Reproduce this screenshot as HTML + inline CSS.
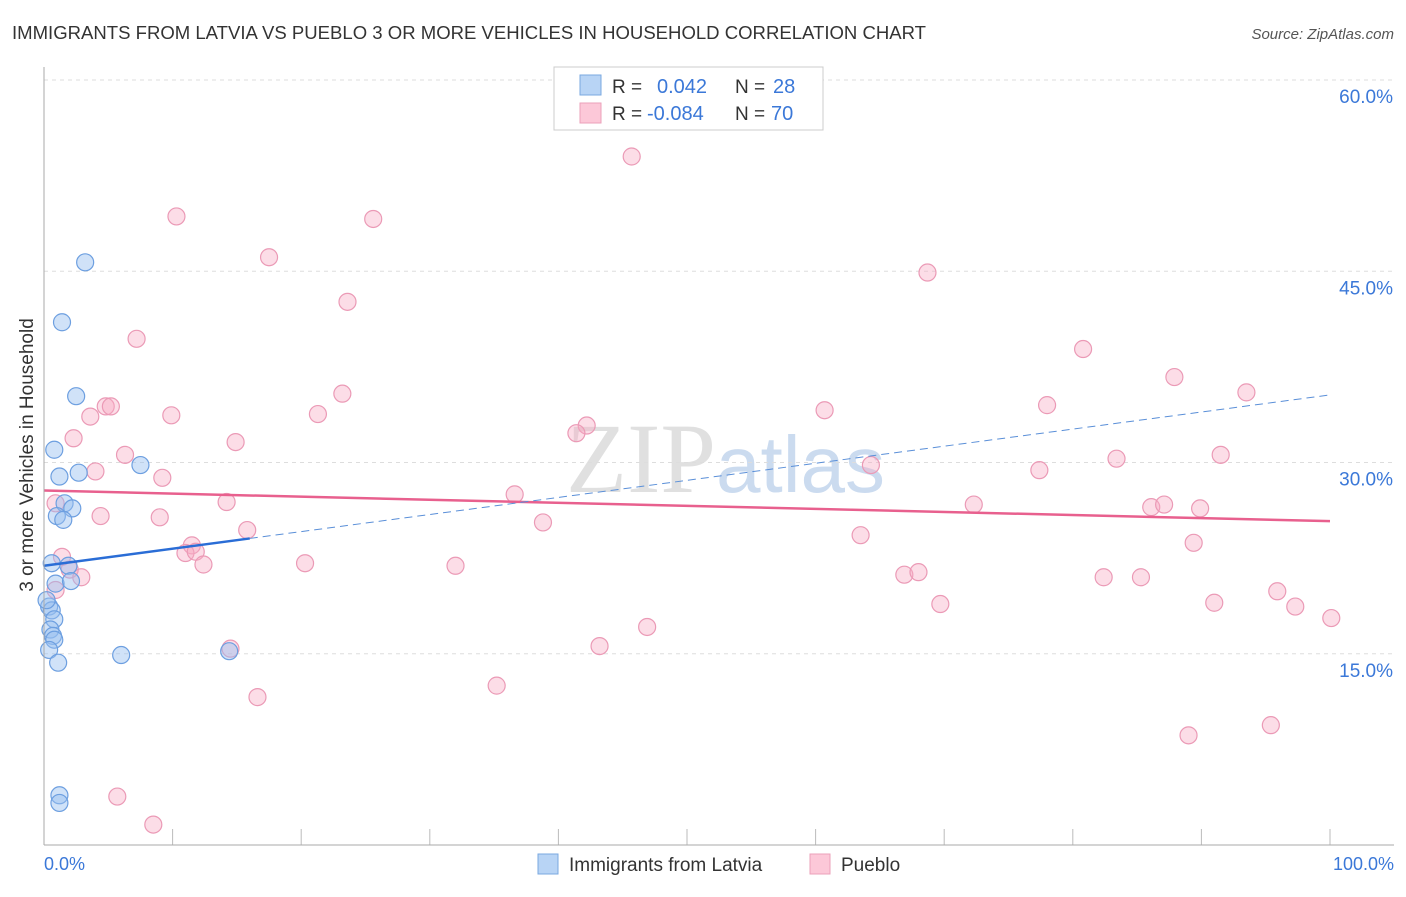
<!DOCTYPE html>
<html><head><meta charset="utf-8"><style>
body{margin:0;background:#fff;font-family:"Liberation Sans",sans-serif}
</style></head><body>
<svg id="c" width="1406" height="892" xmlns="http://www.w3.org/2000/svg">
<text x="12" y="39" font-size="18" fill="#333" textLength="914" lengthAdjust="spacingAndGlyphs">IMMIGRANTS FROM LATVIA VS PUEBLO 3 OR MORE VEHICLES IN HOUSEHOLD CORRELATION CHART</text>
<text x="1394" y="39" font-size="15" fill="#555" font-style="italic" text-anchor="end">Source: ZipAtlas.com</text>
<text x="716" y="492" font-size="100" font-family="Liberation Serif,serif" fill="#ccc" opacity="0.6" text-anchor="end">ZIP</text>
<text x="716" y="492" font-size="80" fill="#a9c4e6" opacity="0.6">atlas</text>
<g id="grid"></g><g id="pts"></g><g id="lines"></g>
<line x1="44" y1="67" x2="44" y2="845" stroke="#aaa"/>
<line x1="44" y1="845" x2="1394" y2="845" stroke="#aaa"/>
<text x="33" y="455" font-size="19" fill="#333" text-anchor="middle" transform="rotate(-90 33 455)">3 or more Vehicles in Household</text>
<text x="44" y="870" font-size="18" fill="#3b78d8">0.0%</text>
<text x="1394" y="870" font-size="18" fill="#3b78d8" text-anchor="end">100.0%</text>
<g>
<rect x="554" y="67" width="269" height="63" fill="#fff" stroke="#ccc"/>
<rect x="580" y="75" width="21" height="20" fill="#b8d4f5" stroke="#7aa8e0"/>
<rect x="580" y="103" width="21" height="20" fill="#fcc8d8" stroke="#eba0ba"/>
<text x="612" y="93" font-size="19" fill="#333">R = </text><text x="657" y="93" font-size="20" fill="#3b78d8">0.042</text>
<text x="735" y="93" font-size="19" fill="#333">N = </text><text x="773" y="93" font-size="20" fill="#3b78d8">28</text>
<text x="612" y="120" font-size="19" fill="#333">R = </text><text x="647" y="120" font-size="20" fill="#3b78d8">-0.084</text>
<text x="735" y="120" font-size="19" fill="#333">N = </text><text x="771" y="120" font-size="20" fill="#3b78d8">70</text>
</g>
<g><rect x="538" y="854" width="20" height="20" fill="#b8d4f5" stroke="#7aa8e0"/><text x="569" y="871" font-size="19" fill="#333">Immigrants from Latvia</text></g>
<g><rect x="810" y="854" width="20" height="20" fill="#fcc8d8" stroke="#eba0ba"/><text x="841" y="871" font-size="19" fill="#333">Pueblo</text></g>
</svg>
<script>
const yTicks=[15,30,45,60];
const xTicks=[10,20,30,40,50,60,70,80,90,100];
const blueX=[3.2,1.4,2.5,0.8,1.2,2.7,7.5,1.6,2.2,1.0,1.5,0.6,1.9,0.9,2.1,0.4,0.6,0.8,0.5,0.7,0.8,0.4,1.1,6.0,14.4,1.2,1.2,0.2];
const blueY=[45.7,41.0,35.2,31.0,28.9,29.2,29.8,26.8,26.4,25.8,25.5,22.1,21.9,20.5,20.7,18.7,18.4,17.7,16.9,16.4,16.1,15.3,14.3,14.9,15.2,3.9,3.3,19.2];
const pinkX=[10.3,25.6,45.7,17.5,23.6,68.7,7.2,80.8,87.9,93.5,23.2,4.8,5.2,3.6,9.9,21.3,60.7,78.0,42.2,41.4,2.3,14.9,6.3,4.0,9.2,83.4,91.5,64.3,77.4,36.6,14.2,4.4,9.0,38.8,72.3,86.1,87.1,89.9,15.8,63.5,89.4,1.4,11.5,11.0,11.8,2.0,2.9,12.4,20.3,32.0,66.9,68.0,82.4,85.3,69.7,91.0,95.9,97.3,100.1,46.9,43.2,14.5,16.6,35.2,95.4,89.0,5.7,8.5,0.9,0.9];
const pinkY=[49.3,49.1,54.0,46.1,42.6,44.9,39.7,38.9,36.7,35.5,35.4,34.4,34.4,33.6,33.7,33.8,34.1,34.5,32.9,32.3,31.9,31.6,30.6,29.3,28.8,30.3,30.6,29.8,29.4,27.5,26.9,25.8,25.7,25.3,26.7,26.5,26.7,26.4,24.7,24.3,23.7,22.6,23.5,22.9,23.0,21.6,21.0,22.0,22.1,21.9,21.2,21.4,21.0,21.0,18.9,19.0,19.9,18.7,17.8,17.1,15.6,15.4,11.6,12.5,9.4,8.6,3.8,1.6,20.0,26.8];
const pinkTrend=[27.8,25.4];
const blueTrend=[21.9,35.3];
const blueSolidEnd=16;
const X=v=>44+v*12.86, Y=v=>845-v*12.75;
const NS="http://www.w3.org/2000/svg";
function mk(t,a,p){const e=document.createElementNS(NS,t);for(const k in a)e.setAttribute(k,a[k]);document.getElementById(p).appendChild(e);return e;}
yTicks.forEach(v=>{
 const l=mk('line',{x1:44,x2:1394,y1:Y(v),y2:Y(v),stroke:'#ddd','stroke-dasharray':'4,4'},'grid');
 
 
 const t=mk('text',{x:1393,y:Y(v)+23,'font-size':19,fill:'#3b78d8','text-anchor':'end'},'grid');
 t.textContent=v.toFixed(1)+'%';
 
 
});
xTicks.forEach(v=>{
 const l=mk('line',{x1:X(v),x2:X(v),y1:829,y2:845,stroke:'#bbb'},'grid');
 
 
});
pinkX.forEach((x,i)=>{
 const c=mk('circle',{cx:X(x),cy:Y(pinkY[i]),r:8.5,fill:'rgba(248,170,196,0.4)',stroke:'#eb9ab6','stroke-width':1.2},'pts');
 
 
});
blueX.forEach((x,i)=>{
 const c=mk('circle',{cx:X(x),cy:Y(blueY[i]),r:8.5,fill:'rgba(150,190,240,0.45)',stroke:'#6d9fe0','stroke-width':1.2},'pts');
 
 
});
const bAt=v=>blueTrend[0]+(blueTrend[1]-blueTrend[0])*v/100;
let l1=mk('line',{x1:X(0),y1:Y(pinkTrend[0]),x2:X(100),y2:Y(pinkTrend[1]),stroke:'#e8608e','stroke-width':2.5},'lines');


let l2=mk('line',{x1:X(blueSolidEnd),y1:Y(bAt(blueSolidEnd)),x2:X(100),y2:Y(bAt(100)),stroke:'#5a8fd8','stroke-width':1,'stroke-dasharray':'8,5'},'lines');


let l3=mk('line',{x1:X(0),y1:Y(bAt(0)),x2:X(blueSolidEnd),y2:Y(bAt(blueSolidEnd)),stroke:'#2a6dd6','stroke-width':2.5},'lines');


</script>
</body></html>
